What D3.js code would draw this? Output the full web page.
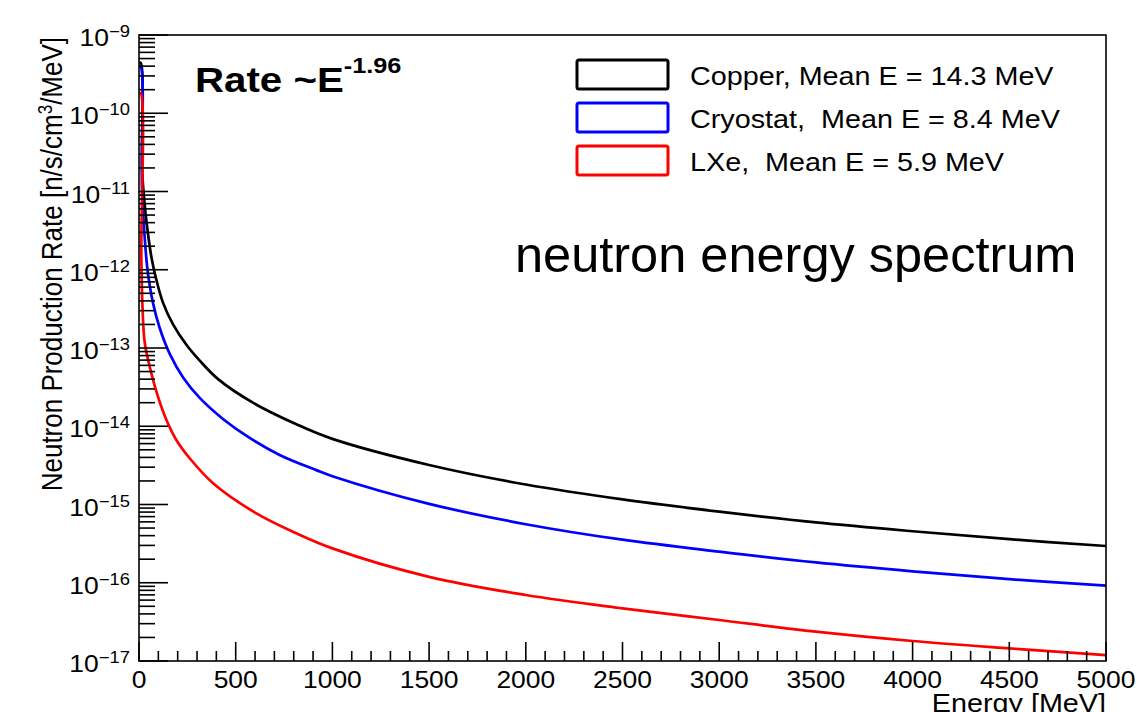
<!DOCTYPE html>
<html lang="en">
<head>
  <meta charset="UTF-8">
  <title>neutron energy spectrum</title>
  <script src="https://d3js.org/d3.v7.min.js"></script>
  <style>
    body { margin: 0; background: white; }
    text { font-family: "Liberation Sans", Arial, Helvetica, sans-serif; fill: #000; white-space: pre; }
    .frame { fill: none; stroke: #000; stroke-width: 1.6px; }
    .tick { stroke: #000; stroke-width: 1.6px; }
    .spec { fill: none; stroke-width: 2.7px; stroke-linejoin: round; }
  </style>
</head>
<body>
<svg width="1139" height="712"></svg>
<script>
  // Copper (black)
  var copperE    = [0, 9, 16, 30, 46, 64, 90, 124, 176, 245, 314, 409, 589, 814, 1000, 1500, 2000, 2500, 3000, 3500, 4000, 4500, 5000];
  var copperRate = [4.4e-10, 4.4e-10, 1.9e-11, 6.5e-12, 2.95e-12, 1.46e-12, 7.4e-13, 3.8e-13, 2.0e-13, 1.1e-13, 6.9e-14, 4.0e-14, 2.0e-14, 1.06e-14, 6.9e-15, 3.2e-15, 1.8e-15, 1.16e-15, 8.1e-16, 5.9e-16, 4.55e-16, 3.6e-16, 2.95e-16];

  // Cryostat (blue)
  var cryoE    = [0, 9, 15, 25, 35, 46, 72, 107, 159, 228, 314, 434, 572, 727, 917, 1000, 1500, 2000, 2500, 3000, 3500, 4000, 4500, 5000];
  var cryoRate = [3.9e-10, 3.9e-10, 1.2e-11, 3.8e-12, 1.7e-12, 9.1e-13, 3.8e-13, 1.8e-13, 8.4e-14, 4.2e-14, 2.3e-14, 1.24e-14, 7.1e-15, 4.3e-15, 2.75e-15, 2.3e-15, 1.02e-15, 5.6e-16, 3.55e-16, 2.5e-16, 1.82e-16, 1.4e-16, 1.11e-16, 9.2e-17];

  // LXe (red)
  var lxeE    = [0, 9, 12, 18, 30, 64, 98, 142, 193, 262, 383, 607, 814, 1000, 1500, 2000, 2500, 3000, 3500, 4000, 4500, 5000];
  var lxeRate = [1.8e-10, 1.8e-10, 1.5e-12, 3.4e-13, 1.15e-13, 4.75e-14, 2.39e-14, 1.2e-14, 6.67e-15, 3.9e-15, 1.87e-15, 7.7e-16, 4.28e-16, 2.75e-16, 1.19e-16, 6.97e-17, 4.71e-17, 3.34e-17, 2.37e-17, 1.8e-17, 1.45e-17, 1.19e-17];

  var seriesNames  = ["Copper, Mean E = 14.3 MeV", "Cryostat,  Mean E = 8.4 MeV", "LXe,  Mean E = 5.9 MeV"];
  var seriesColors = ["#000000", "#0000ff", "#ff0000"];

  var xTicks = [0, 500, 1000, 1500, 2000, 2500, 3000, 3500, 4000, 4500, 5000];
  var yDecades = [-17, -16, -15, -14, -13, -12, -11, -10, -9];

  var SX = 1.15; // the picture is stretched sideways

  var svg = d3.select("svg");
  var x = d3.scaleLinear().domain([0, 5000]).range([139, 1106]);
  var y = d3.scaleLog().domain([1e-17, 1e-9]).range([661, 35]);

  function label(px, py, str, size, anchor, extra) {
    return svg.append("text")
      .attr("transform", "translate(" + px + "," + py + ") scale(" + SX + ",1)" + (extra || ""))
      .attr("text-anchor", anchor)
      .style("font-size", size + "px")
      .text(str);
  }

  svg.append("clipPath").attr("id", "plot")
    .append("rect").attr("x", 139).attr("y", 35).attr("width", 967).attr("height", 626);

  // spectra, red drawn last
  var series = [
    { e: copperE, r: copperRate },
    { e: cryoE, r: cryoRate },
    { e: lxeE, r: lxeRate }
  ];
  var line = d3.line()
    .x(function (d) { return x(d[0]); })
    .y(function (d) { return y(d[1]); })
    .curve(d3.curveCatmullRom.alpha(0.5));

  series.forEach(function (s, i) {
    svg.append("path")
      .attr("class", "spec")
      .attr("clip-path", "url(#plot)")
      .attr("stroke", seriesColors[i])
      .attr("d", line(s.e.map(function (v, j) { return [v, s.r[j]]; })));
  });

  svg.append("rect").attr("class", "frame")
    .attr("x", 139).attr("y", 35).attr("width", 967).attr("height", 626);

  // y ticks
  yDecades.forEach(function (d) {
    var v = Math.pow(10, d);
    svg.append("line").attr("class", "tick")
      .attr("x1", 139).attr("x2", 168).attr("y1", y(v)).attr("y2", y(v));
    if (d < -9) {
      for (var m = 2; m <= 9; m++) {
        var yy = y(m * v);
        svg.append("line").attr("class", "tick")
          .attr("x1", 139).attr("x2", 155).attr("y1", yy).attr("y2", yy);
      }
    }
    var t = label(130, y(v) + 11, "", 23, "end");
    t.append("tspan").text("10");
    t.append("tspan").attr("dy", -9).style("font-size", "16px").text("\u2212" + (-d));
  });

  // x ticks
  for (var e = 0; e <= 5000; e += 100) {
    var big = e % 500 === 0;
    svg.append("line").attr("class", "tick")
      .attr("x1", x(e)).attr("x2", x(e)).attr("y1", 661).attr("y2", big ? 642 : 651);
  }
  xTicks.forEach(function (t) {
    label(x(t), 688, t, 23, "middle");
  });

  label(1106, 712, "Energy [MeV]", 25, "end");

  var yt = label(62, 37, "", 26, "end", " rotate(-90)");
  yt.append("tspan").text("Neutron Production Rate [n/s/cm");
  yt.append("tspan").attr("dy", -9).style("font-size", "17px").text("3");
  yt.append("tspan").attr("dy", 9).text("/MeV]");

  var rt = label(195, 92, "", 35, "start").style("font-weight", "bold");
  rt.append("tspan").text("Rate ~E");
  rt.append("tspan").attr("dy", -19).style("font-size", "22px").text("-1.96");

  // legend
  var legendY = [60, 103, 146];
  seriesNames.forEach(function (n, i) {
    svg.append("rect")
      .attr("x", 577).attr("y", legendY[i]).attr("width", 91).attr("height", 29)
      .attr("rx", 2)
      .attr("fill", "none").attr("stroke", seriesColors[i]).attr("stroke-width", 3);
    label(690, legendY[i] + 25, n, 25, "start");
  });

  svg.append("text")
    .attr("x", 515).attr("y", 272)
    .style("font-size", "50.5px")
    .text("neutron energy spectrum");
</script>
</body>
</html>
